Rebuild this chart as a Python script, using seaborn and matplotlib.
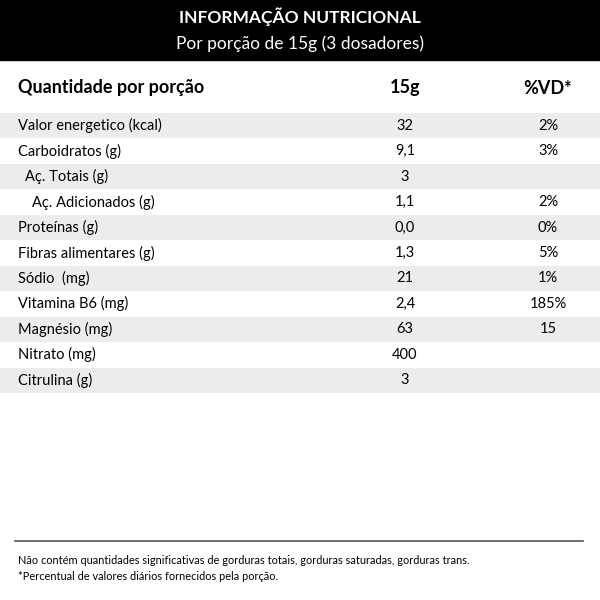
import matplotlib
matplotlib.use("Agg")
import matplotlib.pyplot as plt
from matplotlib.patches import Rectangle
import seaborn as sns
import pandas as pd

title = "INFORMAÇÃO NUTRICIONAL"
subtitle = "Por porção de 15g (3 dosadores)"
head_cols = ["Quantidade por porção", "15g", "%VD*"]

nutrients = ["Valor energetico (kcal)", "Carboidratos (g)", " Aç. Totais (g)",
             "   Aç. Adicionados (g)", "Proteínas (g)", "Fibras alimentares (g)",
             "Sódio  (mg)", "Vitamina B6 (mg)", "Magnésio (mg)", "Nitrato (mg)",
             "Citrulina (g)"]
amounts = ["32", "9,1", "3", "1,1", "0,0", "1,3", "21", "2,4", "63", "400", "3"]
vd = ["2%", "3%", "", "2%", "0%", "5%", "1%", "185%", "15", "", ""]
indent = [0, 0, 1, 2, 0, 0, 0, 0, 0, 0, 0]

footnotes = ["Não contém quantidades significativas de gorduras totais, gorduras saturadas, gorduras trans.",
             "*Percentual de valores diários fornecidos pela porção."]

plt.rcParams['font.family'] = ['Lato', 'DejaVu Sans']

fig = plt.figure(figsize=(6, 6), dpi=100)

# background axes in pixel coordinates
ax0 = fig.add_axes([0, 0, 1, 1])
ax0.set_xlim(0, 600)
ax0.set_ylim(600, 0)
ax0.axis('off')
ax0.add_patch(Rectangle((0, 0), 600, 60, color='black'))
ax0.text(300, 17, title, color='white', fontsize=12.5, fontweight='bold', ha='center', va='center')
ax0.text(300, 44, subtitle, color='white', fontsize=12.5, ha='center', va='center')
ax0.text(18, 88, head_cols[0], fontsize=13, fontweight='bold', ha='left', va='center')
ax0.text(405, 88, head_cols[1], fontsize=13, fontweight='bold', ha='center', va='center')
ax0.text(548, 88, head_cols[2], fontsize=13, fontweight='bold', ha='center', va='center')
ax0.plot([15, 583], [541, 541], color='#555555', lw=1.2)
ax0.text(18, 560, footnotes[0], fontsize=7.9, ha='left', va='center')
ax0.text(18, 577, footnotes[1], fontsize=7.9, ha='left', va='center')

# table rows
df = pd.DataFrame({
    'nutriente': nutrients,
    'largura': [600] * len(nutrients),
    'faixa': ['cinza' if i % 2 == 0 else 'branco' for i in range(len(nutrients))],
})
top, bottom = 113, 393
ax = fig.add_axes([0, (600 - bottom) / 600, 1, (bottom - top) / 600])
sns.barplot(data=df, x='largura', y='nutriente', hue='faixa', orient='h', width=1,
            dodge=False, saturation=1, legend=False,
            palette={'cinza': '#ececec', 'branco': 'white'}, ax=ax)
ax.set_xlim(0, 600)
ax.set_ylim(len(nutrients) - 0.5, -0.5)
ax.axis('off')
for i, name in enumerate(nutrients):
    ax.text(18 + 7 * indent[i], i, name.strip(), fontsize=10.5, ha='left', va='center')
    ax.text(405, i, amounts[i], fontsize=10.5, ha='center', va='center')
    ax.text(548, i, vd[i], fontsize=10.5, ha='center', va='center')

fig.savefig('out.png', dpi=100)
